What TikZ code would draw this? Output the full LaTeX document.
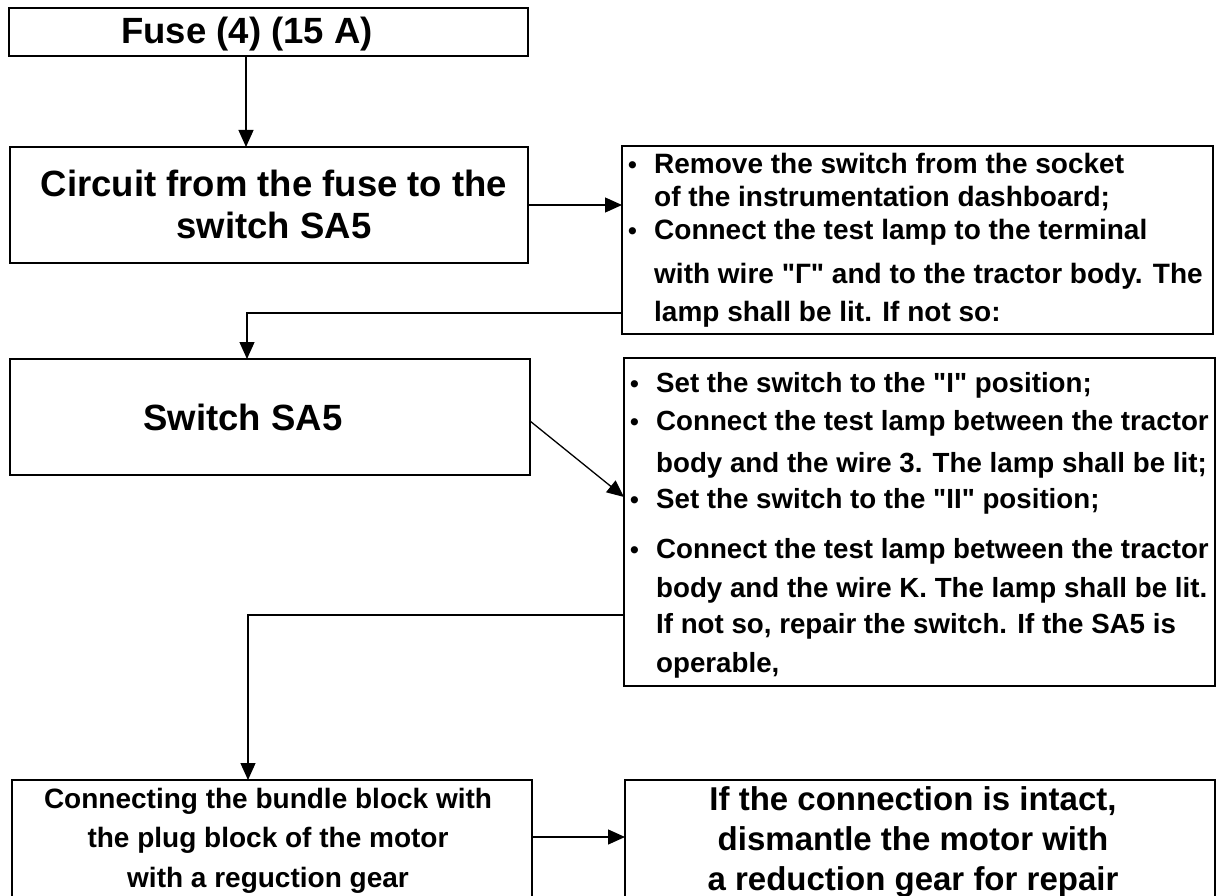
\documentclass[tikz,border=0pt]{standalone}
\usepackage{fontspec}
\setmainfont{Liberation Sans}[Ligatures=TeXOff]
\usetikzlibrary{arrows.meta,calc}
\newcommand\bulx{\makebox[26pt][l]{\fontsize{25}{25}\selectfont •}}
\newcommand\indx{\hspace*{26pt}}
\begin{document}
\begin{tikzpicture}[x=1pt,y=-1pt,
  box/.style={draw, line width=1.6pt, inner sep=0pt, outer sep=0pt},
  arr/.style={line width=1.3pt, -{Triangle[length=17pt,width=15pt]}},
  head/.style={font=\bfseries\fontsize{36.5}{42}\selectfont, inner sep=0pt, align=center},
  bodya/.style={font=\bfseries\fontsize{28}{33}\selectfont, inner sep=0pt, align=left},
  bodyb/.style={font=\bfseries\fontsize{27.7}{37}\selectfont, inner sep=0pt, align=left},
  lowa/.style={font=\bfseries\fontsize{28}{39.5}\selectfont, inner sep=0pt, align=center},
  lowb/.style={font=\bfseries\fontsize{33}{40}\selectfont, inner sep=0pt, align=center},
]
\useasboundingbox (0,0) rectangle (1221,896);
\begin{scope}
\clip (0,0) rectangle (1221,896);
% boxes
\node[box, minimum width=519pt, minimum height=48pt]  (fuse) at (268.5,32) {};
\node[box, minimum width=518pt, minimum height=116pt] (circ) at (269,205) {};
\node[box, minimum width=591pt, minimum height=188pt] (t1)   at (917.5,240) {};
\node[box, minimum width=520pt, minimum height=116pt] (sw)   at (270,417) {};
\node[box, minimum width=591pt, minimum height=328pt] (t2)   at (919.5,522) {};
\node[box, minimum width=520pt, minimum height=140pt] (bl)   at (272,850) {};
\node[box, minimum width=590pt, minimum height=140pt] (br)   at (920,850) {};
% texts (base anchor = baseline of the last line)
\node[head, anchor=base] (fuset) at (247,44) {Fuse (4) (15 A)};
\node[head, anchor=base] (circt) at (274,239) {Circuit from the fuse to the\\switch SA5};
\node[head, anchor=base] (swt) at (243,430) {Switch SA5};
\node[bodya, anchor=base west] (t1t) at (628,321) {%
\bulx Remove the switch from the socket\\
\indx of the instrumentation dashboard;\\
\bulx Connect the test lamp to the terminal\\[11pt]
\indx with wire "Г" and to the tractor body. The\\[5pt]
\indx lamp shall be lit. If not so:};
\node[bodyb, anchor=base west] (t2t) at (630,672) {%
\bulx Set the switch to the "I" position;\\[1pt]
\bulx Connect the test lamp between the tractor\\[5pt]
\indx body and the wire 3. The lamp shall be lit;\\[-1pt]
\bulx Set the switch to the "II" position;\\[13pt]
\bulx Connect the test lamp between the tractor\\[2pt]
\indx body and the wire K. The lamp shall be lit.\\[-1pt]
\indx If not so, repair the switch. If the SA5 is\\[2pt]
\indx operable,};
\node[lowa, anchor=base] (blt) at (268,887) {Connecting the bundle block with\\the plug block of the motor\\with a reguction gear};
\node[lowb, anchor=base] (brt) at (913,890) {If the connection is intact,\\dismantle the motor with\\a reduction gear for repair};
% connectors
\draw[arr] ($(fuse.south west)+(237,0)$) -- ($(circ.north west)+(236,0)$);
\draw[arr] (circ.east) -- (circ.east -| t1.west);
\draw[arr] ($(t1.south west)+(0,-21)$) -| ($(sw.north west)+(237,0)$);
\draw[arr] ($(sw.east)+(0,4)$) -- ($(t2.north west)+(0,139)$);
\draw[arr] ($(t2.south west)+(0,-71)$) -| ($(bl.north west)+(236,0)$);
\draw[arr] ($(bl.north east)+(0,57)$) -- ($(br.north west)+(0,57)$);
\end{scope}
\end{tikzpicture}
\end{document}
